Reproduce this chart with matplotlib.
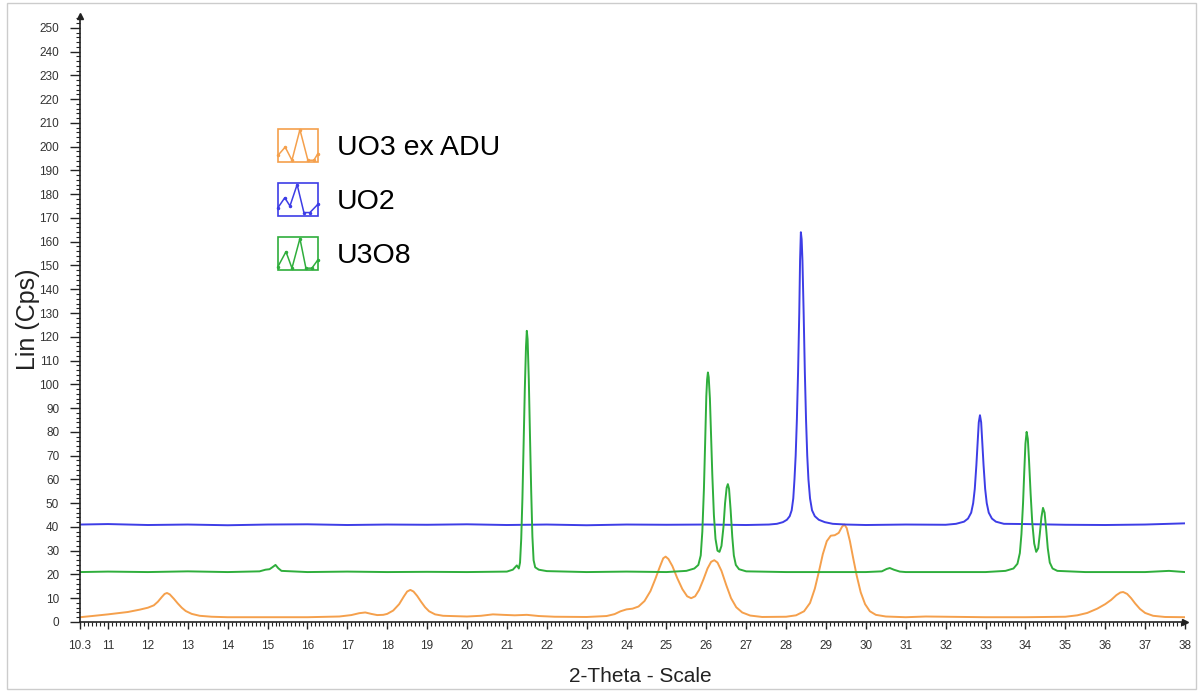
import matplotlib
matplotlib.use("Agg")
import matplotlib.pyplot as plt
from matplotlib.ticker import MultipleLocator, FixedLocator
from matplotlib.legend_handler import HandlerBase
from matplotlib.patches import Rectangle
from matplotlib.lines import Line2D

plt.rcParams['font.family'] = ['Liberation Sans', 'DejaVu Sans']

# ---- data (2-theta, counts) ----
uo3_x = [10.3, 10.6, 11.0, 11.5, 11.8, 12.0, 12.15, 12.25, 12.35, 12.42, 12.48, 12.55, 12.65, 12.75,
         12.85, 12.95, 13.1, 13.3, 13.6, 14.0, 15.0, 16.0, 16.8, 17.1, 17.3, 17.45, 17.6, 17.75, 17.9,
         18.0, 18.15, 18.3, 18.42, 18.5, 18.58, 18.66, 18.75, 18.85, 18.95, 19.05, 19.2, 19.4, 20.0,
         20.35, 20.65, 20.9, 21.2, 21.5, 21.8, 22.2, 23.0, 23.5, 23.7, 23.85, 24.0, 24.15, 24.3, 24.45,
         24.6, 24.72, 24.83, 24.92, 24.98, 25.05, 25.15, 25.27, 25.4, 25.52, 25.62, 25.72, 25.82, 25.93,
         26.03, 26.12, 26.2, 26.28, 26.38, 26.5, 26.62, 26.75, 26.9, 27.1, 27.4, 28.0, 28.25, 28.45,
         28.6, 28.72, 28.82, 28.92, 29.02, 29.12, 29.22, 29.32, 29.4, 29.46, 29.52, 29.6, 29.68, 29.77,
         29.87, 29.98, 30.1, 30.25, 30.5, 31.0, 31.5, 32.0, 33.0, 34.0, 35.0, 35.3, 35.55, 35.8, 36.0,
         36.15, 36.28, 36.38, 36.45, 36.55, 36.65, 36.75, 36.87, 37.0, 37.2, 37.5, 38.0]
uo3_y = [2.0, 2.5, 3.2, 4.2, 5.2, 6.0, 7.0, 8.5, 10.5, 11.8, 12.2, 11.6, 9.8, 7.8,
         6.0, 4.6, 3.4, 2.6, 2.2, 2.0, 2.0, 2.0, 2.3, 2.9, 3.7, 4.0, 3.4, 2.9, 3.0,
         3.4, 4.8, 7.5, 10.8, 12.8, 13.5, 12.8, 11.0, 8.5, 6.2, 4.5, 3.2, 2.6, 2.3,
         2.6, 3.2, 3.0, 2.8, 3.0, 2.5, 2.2, 2.1, 2.5, 3.3, 4.5, 5.3, 5.6, 6.5, 8.8,
         13.0, 18.0, 23.0, 26.8, 27.5, 26.5, 23.5, 18.5, 13.8, 10.8, 10.0, 10.8, 13.5, 18.0,
         22.5, 25.3, 26.0, 25.0, 21.5, 15.5, 10.0, 6.2, 4.0, 2.7, 2.1, 2.2, 2.8, 4.5,
         8.0, 14.0, 21.0, 28.5, 34.0, 36.3, 36.5, 37.5, 40.0, 41.0, 39.5, 34.0, 27.0, 19.5,
         12.5, 7.5, 4.5, 3.0, 2.3, 2.0, 2.3, 2.2, 2.0, 2.0, 2.2, 2.8, 3.8, 5.6, 7.5,
         9.3, 11.3, 12.4, 12.6, 11.8, 10.0, 7.8, 5.5, 3.8, 2.6, 2.1, 2.0]

uo2_x = [10.3, 11.0, 12.0, 13.0, 14.0, 15.0, 16.0, 17.0, 18.0, 19.0, 20.0, 21.0, 22.0, 23.0, 24.0,
         25.0, 26.0, 27.0, 27.57, 27.77, 27.92, 28.02, 28.09, 28.14, 28.18, 28.21, 28.24, 28.27, 28.30,
         28.33, 28.35, 28.37, 28.39, 28.41, 28.44, 28.47, 28.50, 28.53, 28.56, 28.60, 28.65, 28.72,
         28.82, 28.97, 29.17, 29.5, 30.0, 31.0, 32.0, 32.26, 32.46, 32.56, 32.64, 32.69, 32.73, 32.77,
         32.80, 32.83, 32.86, 32.89, 32.92, 32.95, 32.99, 33.03, 33.08, 33.16, 33.26, 33.46, 34.0,
         35.0, 36.0, 37.0, 37.6, 38.0]
uo2_y = [41.0, 41.2, 40.8, 41.0, 40.7, 41.0, 41.1, 40.8, 41.0, 40.9, 41.1, 40.8, 41.0, 40.7, 41.0,
         40.9, 41.0, 40.8, 41.0, 41.3, 42.0, 43.0, 44.5, 47.0, 52.0, 60.0, 70.0, 85.0, 105.0,
         130.0, 152.0, 164.0, 161.0, 152.0, 130.0, 105.0, 85.0, 70.0, 60.0, 52.0, 47.0, 44.5,
         43.0, 42.0, 41.3, 41.0, 40.8, 41.0, 40.9, 41.3, 42.2, 43.5, 46.0, 50.0, 56.0, 66.0,
         75.0, 84.0, 87.0, 84.0, 75.0, 66.0, 56.0, 50.0, 46.0, 43.5, 42.2, 41.3, 41.2,
         40.9, 40.8, 41.0, 41.3, 41.5]

u3o8_x = [10.3, 11.0, 12.0, 13.0, 14.0, 14.8, 14.95, 15.05, 15.12, 15.2, 15.27, 15.35, 16.0, 17.0,
          18.0, 19.0, 20.0, 21.0, 21.15, 21.25, 21.3, 21.33, 21.36, 21.39, 21.42, 21.45, 21.48, 21.5,
          21.52, 21.55, 21.58, 21.61, 21.64, 21.67, 21.71, 21.8, 22.0, 23.0, 24.0, 25.0, 25.5, 25.7,
          25.8, 25.86, 25.9, 25.94, 25.97, 26.0, 26.02, 26.04, 26.06, 26.09, 26.12, 26.15, 26.19, 26.23,
          26.28, 26.33, 26.38, 26.43, 26.47, 26.51, 26.54, 26.57, 26.61, 26.65, 26.69, 26.74, 26.82,
          27.0, 28.0, 29.0, 30.0, 30.4, 30.52, 30.6, 30.7, 30.85, 31.0, 32.0, 33.0, 33.5, 33.7, 33.8,
          33.86, 33.9, 33.94, 33.97, 34.0, 34.03, 34.06, 34.09, 34.13, 34.17, 34.22, 34.27, 34.32,
          34.36, 34.4, 34.44, 34.48, 34.52, 34.56, 34.61, 34.68, 34.8, 35.5, 36.0, 37.0, 37.6, 38.0]
u3o8_y = [21.0, 21.2, 21.0, 21.3, 21.0, 21.3, 22.0, 22.2, 23.0, 24.0, 22.6, 21.5, 21.0, 21.2,
          21.0, 21.1, 21.0, 21.2, 22.0, 23.8, 22.5, 25.0, 35.0, 52.0, 75.0, 98.0, 116.0, 122.5,
          119.0, 102.0, 78.0, 55.0, 36.0, 26.0, 23.0, 22.0, 21.4, 21.0, 21.2, 21.0, 21.5, 22.5,
          24.0, 28.0, 38.0, 56.0, 75.0, 95.0, 102.0, 105.0, 103.0, 94.0, 78.0, 62.0, 45.0, 35.0,
          30.0, 29.5, 32.0, 40.0, 50.0, 56.5, 58.0, 56.0, 47.0, 36.0, 28.0, 24.0, 22.2,
          21.3, 21.0, 21.0, 21.0, 21.3, 22.3, 22.7, 22.0, 21.2, 21.0, 21.0, 21.0, 21.5, 22.5, 24.5,
          29.0, 37.0, 50.0, 63.0, 75.0, 80.0, 77.0, 68.0, 54.0, 42.0, 33.0, 29.5, 31.0,
          37.0, 44.0, 48.0, 46.0, 39.0, 31.0, 25.0, 22.5, 21.5, 21.0, 21.0, 21.0, 21.5, 21.0]

names = ['UO3 ex ADU', 'UO2', 'U3O8']
colors = ['#F5A04C', '#3D3DE6', '#2FAE3C']

# little zigzag drawn inside each legend box (fraction of box)
icons = [
    ([0, 0.18, 0.35, 0.55, 0.75, 0.9, 1.0], [0.2, 0.45, 0.05, 0.98, 0.05, 0.05, 0.25]),
    ([0, 0.17, 0.3, 0.48, 0.65, 0.8, 1.0], [0.25, 0.55, 0.3, 0.95, 0.1, 0.1, 0.35]),
    ([0, 0.2, 0.35, 0.55, 0.7, 0.85, 1.0], [0.1, 0.55, 0.05, 0.95, 0.05, 0.05, 0.3]),
]


class BoxZigzag(HandlerBase):
    def __init__(self, zx, zy):
        super().__init__()
        self.zx = zx
        self.zy = zy

    def create_artists(self, legend, orig_handle, xdescent, ydescent, width, height, fontsize, trans):
        c = orig_handle.get_color()
        box = Rectangle((-xdescent, -ydescent), width, height, fill=False,
                        edgecolor=c, linewidth=1.2, transform=trans)
        xs = [-xdescent + v * width for v in self.zx]
        ys = [-ydescent + v * height for v in self.zy]
        zig = Line2D(xs, ys, color=c, linewidth=1.1, marker='o', markersize=1.5, transform=trans)
        return [box, zig]


fig = plt.figure(figsize=(12, 6.91), dpi=100)
ax = fig.add_axes([0.0667, 0.0999, 0.9208, 0.877])

h1, = ax.plot(uo3_x, uo3_y, color=colors[0], lw=1.4)
h2, = ax.plot(uo2_x, uo2_y, color=colors[1], lw=1.4)
h3, = ax.plot(u3o8_x, u3o8_y, color=colors[2], lw=1.4)

ax.set_xlim(10.3, 38)
ax.set_ylim(0, 255)

ax.spines['top'].set_visible(False)
ax.spines['right'].set_visible(False)
for s in ['left', 'bottom']:
    ax.spines[s].set_linewidth(1.2)
    ax.spines[s].set_color('#222222')

# arrow heads at the axis ends
ax.plot(0, 1, marker='^', color='#222222', markersize=5, transform=ax.transAxes, clip_on=False)
ax.plot(1, 0, marker='>', color='#222222', markersize=5, transform=ax.transAxes, clip_on=False)

xticks = [10.3] + list(range(11, 39))
ax.xaxis.set_major_locator(FixedLocator(xticks))
ax.set_xticklabels(['10.3'] + [str(v) for v in range(11, 39)])
ax.xaxis.set_minor_locator(MultipleLocator(0.1))
ax.yaxis.set_major_locator(FixedLocator(list(range(0, 251, 10))))
ax.yaxis.set_minor_locator(MultipleLocator(2))

ax.tick_params(axis='both', which='major', labelsize=8.5, labelcolor='#333333', color='#222222', width=1.0)
ax.tick_params(axis='x', which='major', length=5, pad=8)
ax.tick_params(axis='y', which='major', length=7, pad=8)
ax.tick_params(axis='both', which='minor', length=3, width=0.8, color='#222222')

ax.set_xlabel('2-Theta - Scale', fontsize=15, color='#222222')
ax.xaxis.set_label_coords(0.507, -0.075)
ax.set_ylabel('Lin (Cps)', fontsize=18, color='#222222')
ax.yaxis.set_label_coords(-0.036, 0.5)

handler = {h: BoxZigzag(*icons[i]) for i, h in enumerate([h1, h2, h3])}
ax.legend([h1, h2, h3], names, handler_map=handler, loc='upper left',
          bbox_to_anchor=(278 / 1200, 1 - 129 / 691), bbox_transform=fig.transFigure,
          frameon=False, fontsize=20.5, handlelength=1.4, handleheight=1.4,
          labelspacing=0.74, handletextpad=0.67, borderpad=0, borderaxespad=0)

# thin light frame round the whole picture
fig.patches.append(Rectangle((7 / 1200, 2 / 691), 1189 / 1200, 686 / 691, fill=False,
                             edgecolor='#cccccc', linewidth=1.0, transform=fig.transFigure))

fig.savefig('out.png', dpi=100)
